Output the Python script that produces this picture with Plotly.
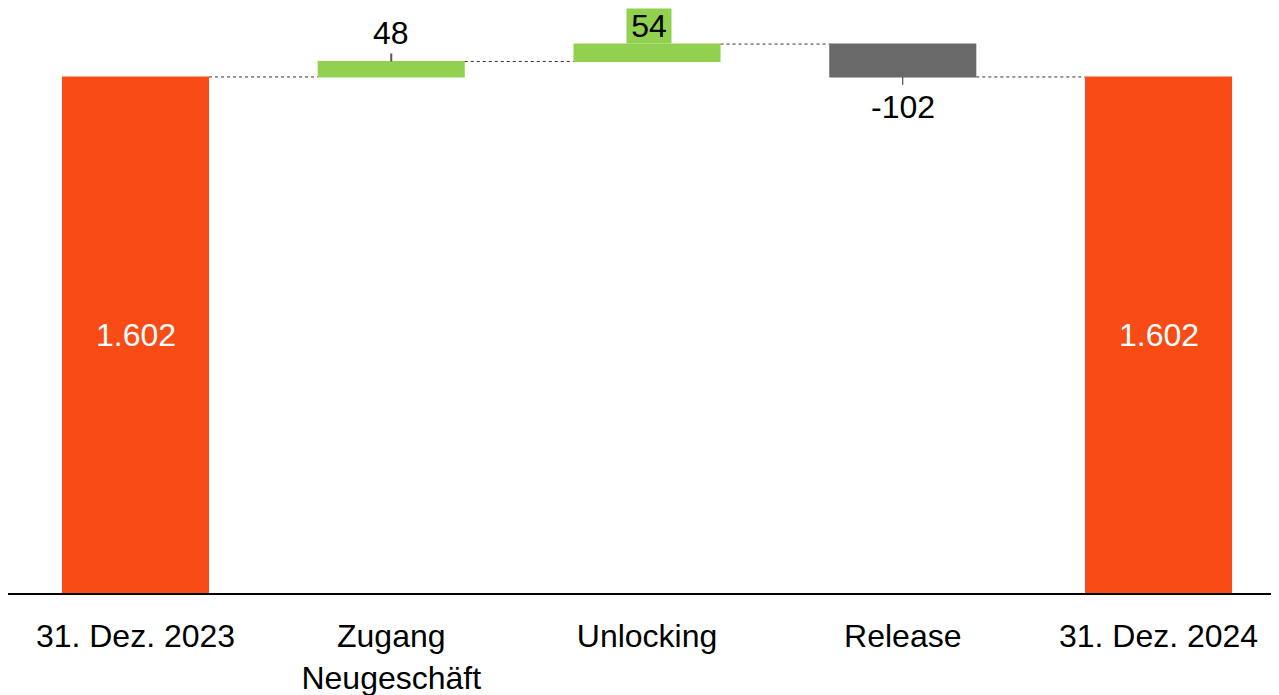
import plotly.graph_objects as go

categories = ["31. Dez. 2023", "Zugang<br>Neugeschäft", "Unlocking", "Release", "31. Dez. 2024"]
values = [1602, 48, 54, -102, None]
measures = ["absolute", "relative", "relative", "relative", "total"]

ORANGE = "#F84B16"
GREEN = "#92D050"
GREY = "#696969"
FONT = "Liberation Sans, Arial, sans-serif"


def fmt(v):
    return f"{v:,}".replace(",", ".")


# running levels so labels sit at the bar ends
levels = []
running = 0
for v, m in zip(values, measures):
    if m == "absolute":
        start, running = 0, v
    elif m == "total":
        start = 0
    else:
        start, running = running, running + v
    levels.append((start, running))

fig = go.Figure(
    go.Waterfall(
        x=categories,
        y=values,
        measure=measures,
        increasing={"marker": {"color": GREEN}},
        decreasing={"marker": {"color": GREY}},
        totals={"marker": {"color": ORANGE}},
        connector={"mode": "between", "line": {"color": "#333333", "width": 1, "dash": "dot"}},
        textinfo="none",
        hoverinfo="skip",
    )
)

annotations = []
shapes = []
for i, (cat, (start, end), m) in enumerate(zip(categories, levels, measures)):
    if m != "relative":
        annotations.append(dict(
            x=cat, y=end / 2, text=fmt(end), showarrow=False,
            font={"color": "white", "size": 32, "family": FONT},
        ))
        continue
    delta = end - start
    if cat == "Unlocking":
        annotations.append(dict(
            x=cat, y=end, text=fmt(delta), showarrow=False, yanchor="bottom",
            width=44, height=34, xshift=2,
            bgcolor=GREEN, borderpad=0, font={"color": "black", "size": 32, "family": FONT},
        ))
    elif delta > 0:
        annotations.append(dict(
            x=cat, y=end, text=fmt(delta), showarrow=False, yanchor="bottom", yshift=8,
            font={"color": "black", "size": 32, "family": FONT},
        ))
        shapes.append(dict(type="line", xref="x", yref="y", x0=cat, x1=cat,
                           ysizemode="pixel", yanchor=end, y0=0, y1=8,
                           line={"color": "#555555", "width": 2}))
    else:
        annotations.append(dict(
            x=cat, y=end, text=fmt(delta), showarrow=False, yanchor="top", yshift=-10,
            font={"color": "black", "size": 32, "family": FONT},
        ))
        shapes.append(dict(type="line", xref="x", yref="y", x0=cat, x1=cat,
                           ysizemode="pixel", yanchor=end, y0=0, y1=-8,
                           line={"color": "#333333", "width": 1}))

fig.update_layout(
    width=1271,
    height=687,
    margin={"l": 0, "r": 0, "t": 0, "b": 102},
    paper_bgcolor="white",
    plot_bgcolor="white",
    waterfallgap=0.425,
    showlegend=False,
    font={"family": FONT, "size": 32, "color": "black"},
    annotations=annotations,
    shapes=shapes,
)
fig.update_xaxes(
    range=[-0.4985, 4.471], automargin=False,
    showline=True, linecolor="black", linewidth=1.5,
    showgrid=False, ticks="", ticklabelstandoff=14,
    tickfont={"size": 32, "color": "black"},
)
fig.update_yaxes(range=[0, 1816], visible=False, showgrid=False, zeroline=False)

fig.write_html("out.html")
